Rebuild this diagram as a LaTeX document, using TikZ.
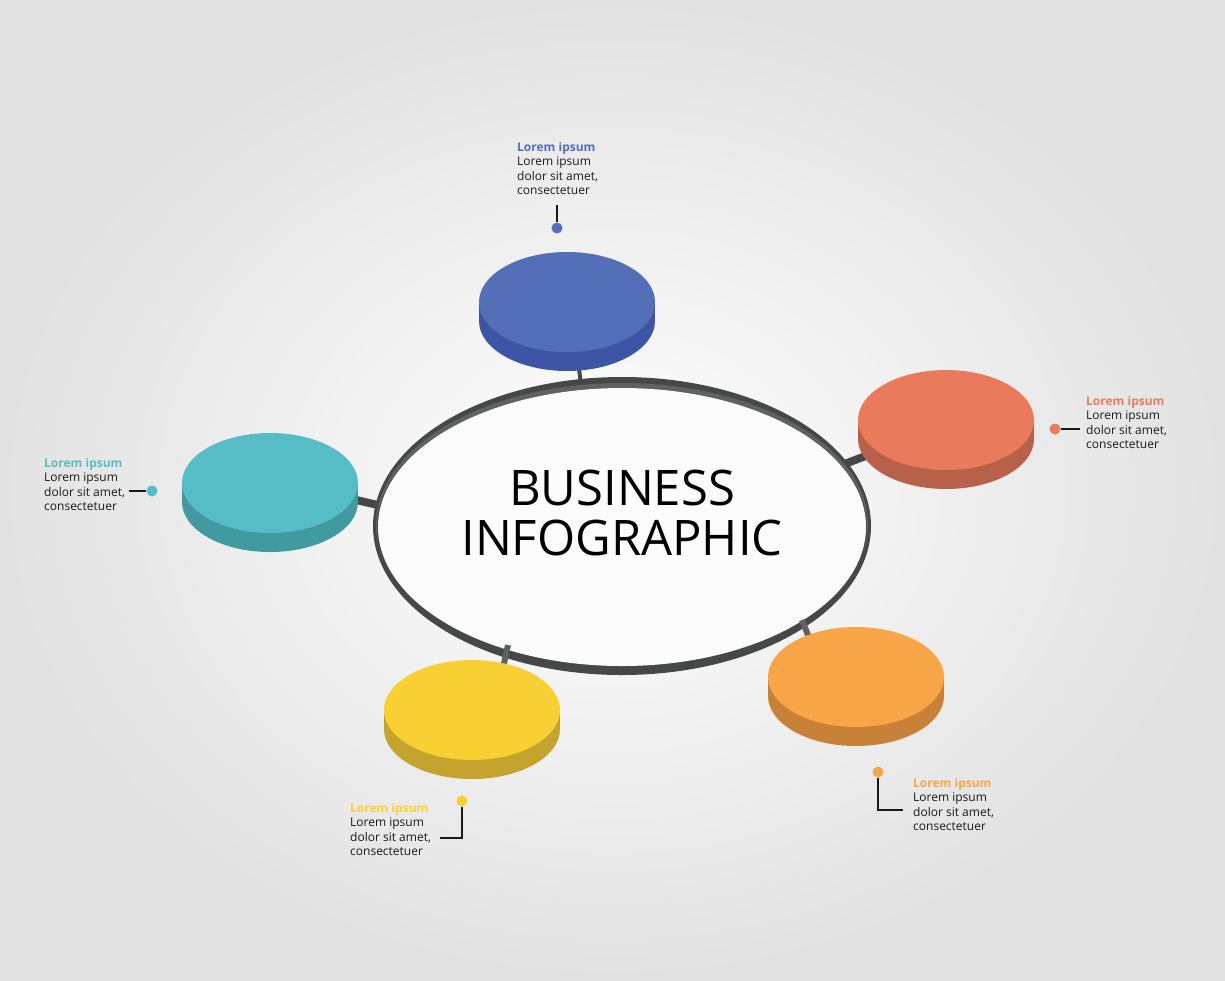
\documentclass[tikz,border=0pt]{standalone}
\usepackage{fontspec}
\setmainfont{Open Sans}
\definecolor{bgout}{RGB}{226,226,226}
\definecolor{ringdark}{RGB}{70,71,71}
\definecolor{ringlight}{RGB}{96,97,97}
\definecolor{inner}{RGB}{251,251,251}
\definecolor{txt}{RGB}{25,25,25}
\definecolor{btop}{RGB}{84,111,184}\definecolor{bside}{RGB}{62,85,166}
\definecolor{rtop}{RGB}{233,123,92}\definecolor{rside}{RGB}{184,97,74}
\definecolor{ttop}{RGB}{86,188,197}\definecolor{tside}{RGB}{64,154,160}
\definecolor{ytop}{RGB}{249,208,51}\definecolor{yside}{RGB}{196,163,47}
\definecolor{otop}{RGB}{247,165,71}\definecolor{oside}{RGB}{200,129,57}
\newcommand\mydisc[4]{%
  \fill[#4] (#1-88,#2) rectangle (#1+88,#2+19);
  \fill[#4] (#1,#2+19) ellipse [x radius=88pt, y radius=50pt];
  \fill[#3] (#1,#2) ellipse [x radius=88pt, y radius=50pt];
}
\begin{document}
\begin{tikzpicture}[x=1pt,y=-1pt,
  lbl/.style={align=left, inner sep=0pt, text=txt, font=\fontsize{12}{14.4}\selectfont},
  titletext/.style={align=center, inner sep=0pt, text=black, font=\fontsize{49}{50}\selectfont},
  ldot/.style={circle, inner sep=0pt, minimum size=11pt},
  leader/.style={draw=txt, line width=1.1pt},
  bar/.style={draw=ringdark, line width=7pt},
  notch/.style={draw=ringlight, line width=6pt}]
\useasboundingbox (0,0) rectangle (1225,980);
\shade[inner color=white, outer color=bgout] (0,0) rectangle (1225,980);

% disc centres
\coordinate (cb) at (567,302);
\coordinate (cr) at (946,420);
\coordinate (ct) at (270,483);
\coordinate (cy) at (472,710);
\coordinate (co) at (856,677);
% bar ends on ring
\coordinate (rb) at (581,385);
\coordinate (rr) at (842,465);
\coordinate (rt) at (382,506);
\coordinate (ry) at (503,668);
\coordinate (ro) at (810,640);
\coordinate (db) at (578,360);
\coordinate (dr) at (876,452);
\coordinate (dt) at (352,499);
\coordinate (dy) at (508,645);
\coordinate (do) at (802,620);

% bars
\draw[bar, line width=4pt] (db) -- (rb);
\draw[bar, line width=8pt] (dr) -- (rr);
\draw[bar, line width=8pt] (dt) -- (rt);

% ring
\fill[ringdark] (622,526) ellipse [x radius=249pt, y radius=149pt];
\fill[ringlight] (622,525) ellipse [x radius=246pt, y radius=142pt];
\fill[ringdark] (622,528) ellipse [x radius=245pt, y radius=140pt];
\fill[inner] (622,527) ellipse [x radius=244pt, y radius=139pt];
\draw[notch] (dy) -- (ry);
\draw[notch] (do) -- (ro);

% discs
\mydisc{567}{302}{btop}{bside}
\mydisc{946}{420}{rtop}{rside}
\mydisc{270}{483}{ttop}{tside}
\mydisc{472}{710}{ytop}{yside}
\mydisc{856}{677}{otop}{oside}

% title
\node[titletext] (title) at (622,513) {BUSINESS\\INFOGRAPHIC};

% blue label
\node[lbl, anchor=north west] (tb) at (517,142) {\textbf{\color{btop}Lorem ipsum}\\Lorem ipsum\\dolor sit amet,\\consectetuer};
\node[ldot, fill=btop] (kb) at (557,228) {};
\coordinate (eb) at (557,205);
\draw[leader] (kb) -- (eb);

% red label
\node[lbl, anchor=north west] (tr) at (1086,396) {\textbf{\color{rtop}Lorem ipsum}\\Lorem ipsum\\dolor sit amet,\\consectetuer};
\node[ldot, fill=rtop] (kr) at (1055,429) {};
\coordinate (er) at (1080,429);
\draw[leader] (kr) -- (er);

% teal label
\node[lbl, anchor=north west] (tt) at (44,458) {\textbf{\color{ttop}Lorem ipsum}\\Lorem ipsum\\dolor sit amet,\\consectetuer};
\node[ldot, fill=ttop] (kt) at (152,491) {};
\coordinate (et) at (129,491);
\draw[leader] (kt) -- (et);

% yellow label
\node[lbl, anchor=north west] (ty) at (350,803) {\textbf{\color{ytop}Lorem ipsum}\\Lorem ipsum\\dolor sit amet,\\consectetuer};
\node[ldot, fill=ytop] (ky) at (462,801) {};
\coordinate (ey) at (440,838);
\draw[leader] (ky) |- (ey);

% orange label
\node[lbl, anchor=north west] (to) at (913,778) {\textbf{\color{otop}Lorem ipsum}\\Lorem ipsum\\dolor sit amet,\\consectetuer};
\node[ldot, fill=otop] (ko) at (878,772) {};
\coordinate (eo) at (903,810);
\draw[leader] (ko) |- (eo);
\end{tikzpicture}
\end{document}
